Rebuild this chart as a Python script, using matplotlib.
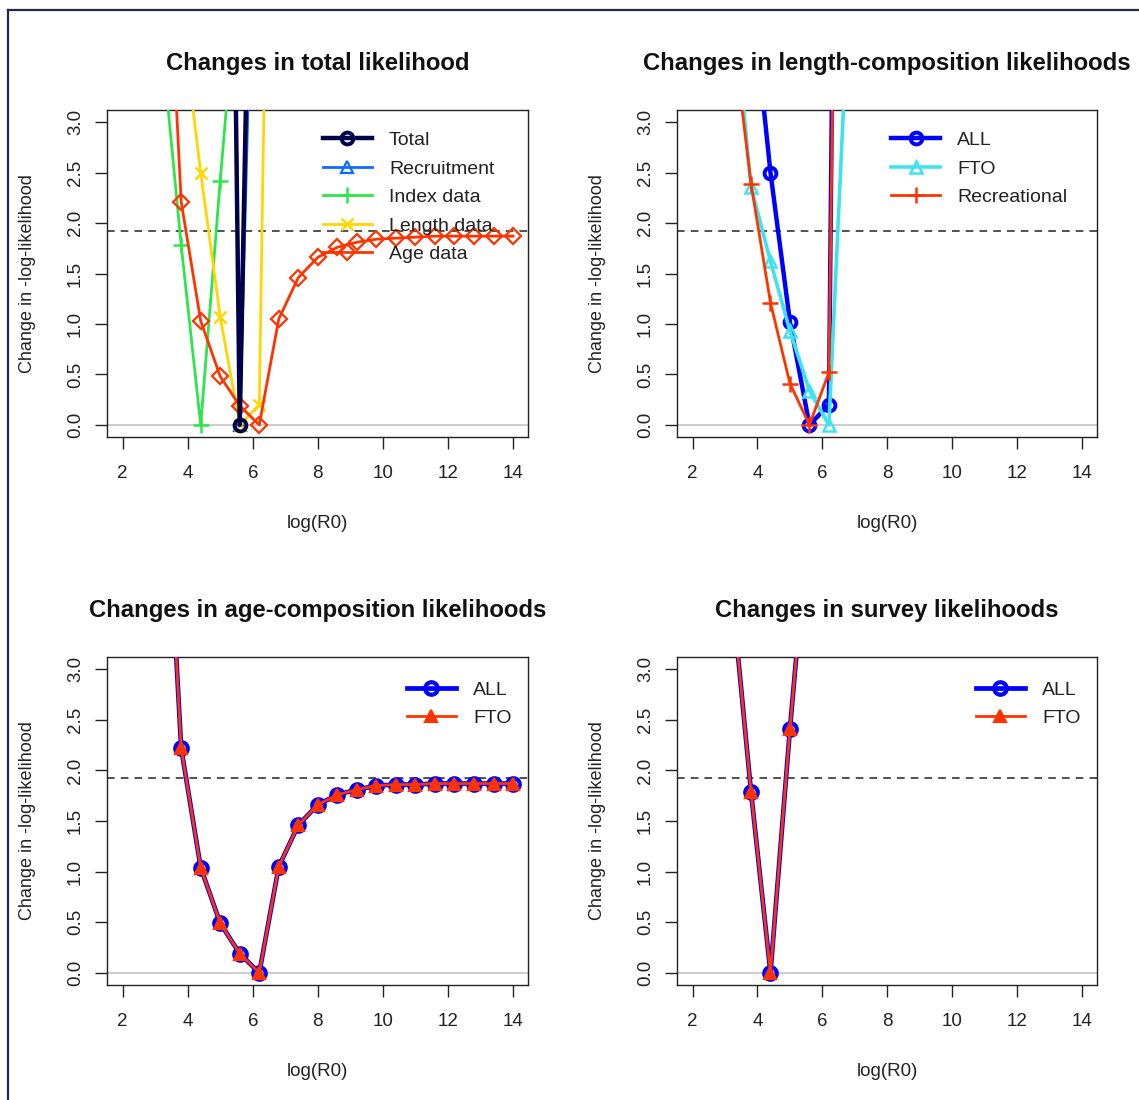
import matplotlib
matplotlib.use("Agg")
import matplotlib.pyplot as plt
from matplotlib.lines import Line2D

plt.rcParams['font.family'] = ['Liberation Sans', 'DejaVu Sans']

# ---- profile grid over log(R0) ----
log_r0 = [3.2, 3.8, 4.4, 5.0, 5.6, 6.2, 6.8, 7.4, 8.0, 8.6, 9.2, 9.8,
          10.4, 11.0, 11.6, 12.2, 12.8, 13.4, 14.0]

# ---- total likelihood components ----
total_x = [5.0, 5.6, 6.2]
total_y = [16.0, 0.0, 10.0]
recruit_x = [5.0, 5.6, 6.2]
recruit_y = [17.0, 0.0, 7.5]
index_x = [3.2, 3.8, 4.4, 5.0, 5.6]
index_y = [3.8, 1.78, 0.0, 2.42, 4.7]
length_x = [3.8, 4.4, 5.0, 5.6, 6.2, 6.8]
length_y = [4.1, 2.5, 1.07, 0.0, 0.2, 12.5]
age_y = [6.1, 2.21, 1.03, 0.48, 0.19, 0.0, 1.05, 1.46, 1.66, 1.76, 1.81,
         1.84, 1.85, 1.86, 1.87, 1.87, 1.87, 1.87, 1.87]

# ---- length-composition likelihoods by fleet ----
lc_all_x = [3.8, 4.4, 5.0, 5.6, 6.2, 6.8]
lc_all_y = [4.36, 2.5, 1.02, 0.0, 0.2, 20.0]
lc_fto_x = [3.2, 3.8, 4.4, 5.0, 5.6, 6.2, 6.8]
lc_fto_y = [4.4, 2.36, 1.62, 0.93, 0.34, 0.0, 4.2]
lc_rec_x = [3.2, 3.8, 4.4, 5.0, 5.6, 6.2, 6.8]
lc_rec_y = [4.0, 2.39, 1.21, 0.41, 0.0, 0.52, 15.0]

# ---- age-composition likelihoods by fleet ----
ac_all_y = [5.8, 2.22, 1.04, 0.49, 0.19, 0.0, 1.05, 1.46, 1.66, 1.76, 1.81,
            1.85, 1.86, 1.86, 1.87, 1.87, 1.87, 1.87, 1.87]
ac_fto_y = [5.8, 2.22, 1.04, 0.49, 0.19, 0.0, 1.05, 1.46, 1.66, 1.76, 1.81,
            1.85, 1.86, 1.86, 1.87, 1.87, 1.87, 1.87, 1.87]

# ---- survey likelihoods by fleet ----
sv_x = [3.2, 3.8, 4.4, 5.0, 5.6]
sv_all_y = [3.8, 1.79, 0.0, 2.41, 4.6]
sv_fto_y = [3.8, 1.79, 0.0, 2.41, 4.6]

x_ticks = [2, 4, 6, 8, 10, 12, 14]
y_ticks = [0.0, 0.5, 1.0, 1.5, 2.0, 2.5, 3.0]
chi2_cut = 1.92

titles = ["Changes in total likelihood",
          "Changes in length-composition likelihoods",
          "Changes in age-composition likelihoods",
          "Changes in survey likelihoods"]

NAVY = '#00004a'
RECR = '#0a6cff'
GREEN = '#2ee64a'
YELLOW = '#ffd600'
RED = '#ff3300'
BLUE = '#0000ff'
CYAN = '#3fe3f0'

W, H = 1139, 1100
fig = plt.figure(figsize=(W / 100, H / 100), dpi=100)


def px_axes(x0, y0, x1, y1):
    return fig.add_axes([x0 / W, 1 - y1 / H, (x1 - x0) / W, (y1 - y0) / H])


ax_tl = px_axes(107, 110, 528, 437)
ax_tr = px_axes(677, 110, 1097, 437)
ax_bl = px_axes(107, 657, 528, 985)
ax_br = px_axes(677, 657, 1097, 985)


def style(ax, title):
    ax.set_xlim(1.52, 14.46)
    ax.set_ylim(-0.12, 3.12)
    ax.set_xticks(x_ticks)
    ax.set_yticks(y_ticks)
    ax.set_yticklabels([f"{v:.1f}" for v in y_ticks])
    ax.tick_params(direction='out', length=8.5, width=1.0, labelsize=13.5,
                   colors='#222222', pad=8)
    ax.tick_params(axis='x', pad=12)
    for lab in ax.get_yticklabels():
        lab.set_rotation(90)
        lab.set_va('center')
    for s in ax.spines.values():
        s.set_linewidth(1.0)
        s.set_color('#222222')
    ax.axhline(0, color='#c4c4c4', lw=1.2, zorder=1)
    ax.axhline(chi2_cut, color='#222222', lw=1.1, ls=(0, (5, 4)), zorder=1)
    ax.set_xlabel("log(R0)", fontsize=13.5, color='#222222')
    ax.xaxis.set_label_coords(0.5, -0.263)
    ax.xaxis.label.set_va('center')
    ax.set_ylabel("Change in -log-likelihood", fontsize=13, color='#222222')
    ax.yaxis.set_label_coords(-0.19, 0.5)
    ax.yaxis.label.set_va('center')
    ax.text(0.5, 1.143, title, transform=ax.transAxes, ha='center',
            va='center', fontsize=17.2, fontweight='bold', color='#111111')


def legend(ax, x0, y0, handles=None, labels=None):
    kw = dict(loc='upper left', bbox_to_anchor=(x0, y0), frameon=False,
              fontsize=14, handlelength=2.5, handletextpad=0.9,
              labelspacing=0.56, borderpad=0, borderaxespad=0,
              numpoints=1, labelcolor='#222222')
    if handles is None:
        ax.legend(**kw)
    else:
        ax.legend(handles, labels, **kw)


# panel 1: total likelihood
ax = ax_tl
style(ax, titles[0])
ax.plot(recruit_x, recruit_y, color=RECR, lw=2, marker='^', ms=8,
        mfc='none', mew=1.6, label='Recruitment', zorder=3)
ax.plot(index_x, index_y, color=GREEN, lw=2, marker='+', ms=11,
        mew=1.8, label='Index data', zorder=3)
ax.plot(length_x, length_y, color=YELLOW, lw=2, marker='x', ms=8,
        mew=1.8, label='Length data', zorder=3)
ax.plot(log_r0, age_y, color=RED, lw=2, marker='D', ms=8,
        mfc='none', mew=1.6, label='Age data', zorder=3)
ax.plot(total_x, total_y, color=NAVY, lw=3.2, marker='o', ms=8.5,
        mfc='none', mew=2.8, label='Total', zorder=4)
handles, labels = ax.get_legend_handles_labels()
order = [4, 0, 1, 2, 3]
legend(ax, 0.513, 0.934, [handles[i] for i in order],
       [labels[i] for i in order])

# panel 2: length-composition
ax = ax_tr
style(ax, titles[1])
ax.plot(lc_all_x, lc_all_y, color=BLUE, lw=3.2, marker='o', ms=8.5,
        mfc='none', mew=2.8, label='ALL', zorder=3)
ax.plot(lc_fto_x, lc_fto_y, color=CYAN, lw=2.6, marker='^', ms=8,
        mfc='none', mew=1.8, label='FTO', zorder=3)
ax.plot(lc_rec_x, lc_rec_y, color=RED, lw=2, marker='+', ms=11,
        mew=1.8, label='Recreational', zorder=4)
legend(ax, 0.51, 0.934)

# panel 3: age-composition
ax = ax_bl
style(ax, titles[2])
ax.plot(log_r0, ac_all_y, color=BLUE, lw=3.4, marker='o', ms=9,
        mfc='none', mew=3.0, label='ALL', zorder=3)
ax.plot(log_r0, ac_fto_y, color=RED, lw=2, marker='^', ms=8,
        mfc=RED, mew=1.6, label='FTO', zorder=4)
legend(ax, 0.713, 0.927)

# panel 4: survey
ax = ax_br
style(ax, titles[3])
ax.plot(sv_x, sv_all_y, color=BLUE, lw=3.4, marker='o', ms=9,
        mfc='none', mew=3.0, label='ALL', zorder=3)
ax.plot(sv_x, sv_fto_y, color=RED, lw=2, marker='^', ms=8,
        mfc=RED, mew=1.6, label='FTO', zorder=4)
legend(ax, 0.712, 0.927)

# outer frame (top and left edges)
fig.add_artist(Line2D([8 / W, 1.0], [1 - 10 / H, 1 - 10 / H],
                      color='#26264f', lw=1.6))
fig.add_artist(Line2D([8 / W, 8 / W], [0.0, 1 - 10 / H],
                      color='#26264f', lw=1.6))

fig.savefig("out.png", dpi=100)
